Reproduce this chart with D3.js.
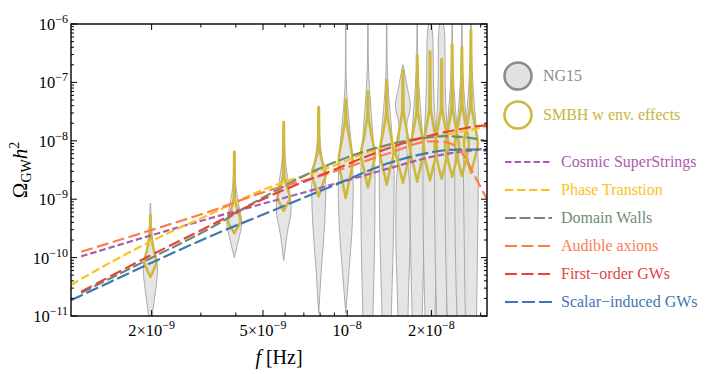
<!DOCTYPE html>
<html>
<head>
<meta charset="utf-8">
<script src="https://cdn.jsdelivr.net/npm/d3@7"></script>
<style>
  body { margin: 0; background: #fff; }
  svg { display: block; }
</style>
</head>
<body>
<div id="chart"></div>
<script>
// frequency grid (Hz) the model curves were read at
var fGrid = [1.03e-9, 1.12e-9, 1.99e-9, 3.23e-9, 4.88e-9, 8.69e-9, 1.42e-8, 1.98e-8, 2.24e-8, 2.53e-8, 2.82e-8, 3.16e-8];

// Omega_GW h^2 for each model, null where the curve is not drawn
var cosmicStrings   = [null, 1.05e-10, 2.4e-10, 4.7e-10, 8.1e-10, 1.74e-9, 3.4e-9, 5.25e-9, 5.9e-9, 6.5e-9, 6.9e-9, 7.4e-9];
var phaseTransition = [3.4e-11, 4.3e-11, 1.9e-10, 5.5e-10, 1.38e-9, 3.55e-9, 8.5e-9, 1.15e-8, 1.26e-8, 1.41e-8, 1.58e-8, 1.74e-8];
var domainWalls     = [null, 2.5e-11, 9.8e-11, 3.16e-10, 1.0e-9, 4.0e-9, 8.7e-9, 1.15e-8, 1.2e-8, 1.17e-8, 1.1e-8, 9.8e-9];
var audibleAxions   = [null, 1.26e-10, 2.95e-10, 6.17e-10, 1.26e-9, 2.82e-9, 6.17e-9, 9.8e-9, 9.5e-9, 6.9e-9, 2.8e-9, 1.0e-9];
var firstOrder      = [null, 2.6e-11, 1.1e-10, 3.5e-10, 9.5e-10, 3.0e-9, 7.6e-9, 1.23e-8, 1.41e-8, 1.58e-8, 1.74e-8, 1.86e-8];
var scalarInduced   = [1.86e-11, 2.24e-11, 8.1e-11, 2.3e-10, 5.2e-10, 1.62e-9, 4.2e-9, 6.3e-9, 6.9e-9, 7.1e-9, 7.1e-9, 6.8e-9];

// NG15 frequency bins (Hz)
var ng15Freqs = [1.98e-9, 3.95e-9, 5.93e-9, 7.91e-9, 9.88e-9, 1.186e-8, 1.384e-8, 1.582e-8, 1.779e-8, 1.977e-8, 2.175e-8, 2.372e-8, 2.57e-8, 2.768e-8];

// violin knots: [log10 Omega, relative density]
var ng15Knots = [
  [[-9.07,0.03],[-9.4,0.12],[-9.8,0.4],[-10.2,0.95],[-10.55,0.7],[-10.9,0.33],[-11.3,0]],
  [[-8.2,0.03],[-8.7,0.15],[-9.1,0.6],[-9.4,1.0],[-9.7,0.55],[-10.0,0]],
  [[-7.7,0.03],[-8.3,0.2],[-8.8,0.7],[-9.15,1.0],[-9.6,0.45],[-10.05,0]],
  [[-7.42,0.03],[-7.9,0.12],[-8.4,0.55],[-8.8,0.95],[-9.4,0.8],[-10.2,0.35],[-10.95,0]],
  [[-5.9,0.02],[-6.8,0.04],[-7.4,0.25],[-8.0,0.7],[-8.8,1.0],[-9.6,0.8],[-10.2,0.45],[-10.95,0]],
  [[-5.9,0.02],[-6.6,0.05],[-7.2,0.25],[-7.8,0.6],[-8.6,0.95],[-9.6,0.9],[-10.6,0.75],[-11.3,0.6]],
  [[-5.9,0.02],[-6.6,0.05],[-7.2,0.25],[-7.8,0.65],[-8.6,1.0],[-9.6,0.9],[-10.6,0.7],[-11.3,0.55]],
  [[-6.7,0.02],[-7.1,0.6],[-7.4,1.0],[-7.75,0.5],[-8.2,0.55],[-8.8,0.9],[-9.6,0.95],[-10.6,0.75],[-11.3,0.6]],
  [[-5.9,0.02],[-6.5,0.05],[-7.1,0.25],[-7.7,0.6],[-8.5,0.95],[-9.6,0.9],[-10.6,0.75],[-11.3,0.6]],
  [[-5.9,0.1],[-6.3,0.4],[-6.9,0.45],[-7.5,0.6],[-8.4,0.95],[-9.6,0.9],[-10.6,0.75],[-11.3,0.6]],
  [[-5.9,0.15],[-6.3,0.45],[-6.9,0.45],[-7.5,0.6],[-8.4,0.95],[-9.6,0.9],[-10.6,0.75],[-11.3,0.6]],
  [[-5.9,0.02],[-6.5,0.05],[-7.1,0.25],[-7.7,0.6],[-8.5,0.95],[-9.6,0.9],[-10.6,0.75],[-11.3,0.6]],
  [[-5.9,0.02],[-6.5,0.05],[-7.1,0.25],[-7.7,0.6],[-8.5,0.95],[-9.6,0.9],[-10.6,0.75],[-11.3,0.6]],
  [[-5.9,0.03],[-6.5,0.08],[-7.1,0.3],[-7.7,0.65],[-8.5,1.0],[-9.6,0.9],[-10.6,0.8],[-11.3,0.7]]
];

var smbhKnots = [
  [[-9.27,0.03],[-9.6,0.06],[-9.85,0.45],[-10.08,0.85],[-10.2,0.5],[-10.33,0]],
  [[-8.19,0.03],[-8.95,0.07],[-9.2,0.5],[-9.38,0.9],[-9.48,0.5],[-9.58,0]],
  [[-7.68,0.03],[-8.55,0.07],[-8.8,0.5],[-8.98,0.9],[-9.08,0.5],[-9.2,0]],
  [[-7.42,0.03],[-8.1,0.08],[-8.35,0.5],[-8.58,1.0],[-8.75,0.55],[-8.95,0]],
  [[-7.3,0.03],[-7.6,0.08],[-7.95,0.5],[-8.35,1.0],[-8.65,0.55],[-8.98,0]],
  [[-7.16,0.03],[-7.55,0.08],[-7.9,0.5],[-8.25,1.0],[-8.5,0.55],[-8.8,0]],
  [[-6.96,0.03],[-7.5,0.08],[-7.85,0.5],[-8.2,1.0],[-8.45,0.55],[-8.75,0]],
  [[-6.79,0.03],[-7.45,0.08],[-7.8,0.5],[-8.2,1.0],[-8.45,0.55],[-8.72,0]],
  [[-6.53,0.03],[-7.45,0.08],[-7.8,0.5],[-8.15,1.0],[-8.4,0.55],[-8.7,0]],
  [[-6.47,0.03],[-7.4,0.08],[-7.75,0.5],[-8.15,1.0],[-8.4,0.55],[-8.68,0]],
  [[-6.6,0.03],[-7.4,0.08],[-7.75,0.5],[-8.1,1.0],[-8.38,0.55],[-8.65,0]],
  [[-6.35,0.03],[-7.4,0.08],[-7.75,0.5],[-8.1,1.0],[-8.35,0.55],[-8.62,0]],
  [[-6.4,0.03],[-7.35,0.08],[-7.7,0.5],[-8.05,1.0],[-8.33,0.55],[-8.6,0]],
  [[-6.1,0.03],[-7.35,0.08],[-7.7,0.5],[-8.05,1.0],[-8.3,0.55],[-8.55,0]]
];

var xTickLabels = [[2e-9, "2\u00d710", "\u22129"], [5e-9, "5\u00d710", "\u22129"], [1e-8, "10", "\u22128"], [2e-8, "2\u00d710", "\u22128"]];
var yTickLabels = [1e-11, 1e-10, 1e-9, 1e-8, 1e-7, 1e-6];

var models = [
  {name: "Cosmic SuperStrings",   vals: cosmicStrings,   color: "#a95dac", dash: "6.5,3"},
  {name: "Phase Transtion",       vals: phaseTransition, color: "#fbc21a", dash: "8.5,3.5"},
  {name: "Domain Walls",          vals: domainWalls,     color: "#6f8c73", dash: "11,3.5"},
  {name: "Audible axions",        vals: audibleAxions,   color: "#fd7d4f", dash: "12,4.5"},
  {name: "First\u2212order GWs",  vals: firstOrder,      color: "#e4433f", dash: "12,4.5"},
  {name: "Scalar\u2212induced GWs", vals: scalarInduced, color: "#3f76b3", dash: "13,4"}
];

var width = 706, height = 374;
var L = 71, R = 487, T = 24, B = 316;

var svg = d3.select("#chart").append("svg")
  .attr("width", width)
  .attr("height", height);

// every text node gets the serif family directly
function label(parent) {
  return parent.append("text").style("font-family", "'Liberation Serif'");
}

var x = d3.scaleLog().domain([1.03e-9, 3.16e-8]).range([L, R]);
var y = d3.scaleLog().domain([1e-11, 1e-6]).range([B, T]);
var grayW = d3.scaleLinear().domain([0, 1]).range([0, 7.5]);
var goldW = d3.scaleLinear().domain([0, 1]).range([0, 7]);

svg.append("defs").append("clipPath").attr("id", "clip")
  .append("rect").attr("x", L).attr("y", T).attr("width", R - L).attr("height", B - T);

var plot = svg.append("g").attr("clip-path", "url(#clip)");

function violin(cx, w) {
  return d3.area()
    .y(function(d) { return y(Math.pow(10, d[0])); })
    .x0(function(d) { return cx - w(d[1]); })
    .x1(function(d) { return cx + w(d[1]); })
    .curve(d3.curveMonotoneY);
}

plot.selectAll("path.ng15")
  .data(ng15Knots)
  .enter().append("path")
  .attr("class", "ng15")
  .attr("d", function(k, i) { return violin(x(ng15Freqs[i]), grayW)(k); })
  .attr("fill", "#e2e2e2")
  .attr("fill-opacity", 0.9)
  .attr("stroke", "#a3a3a3")
  .attr("stroke-width", 0.9);

plot.selectAll("path.smbh")
  .data(smbhKnots)
  .enter().append("path")
  .attr("class", "smbh")
  .attr("d", function(k, i) { return violin(x(ng15Freqs[i]), goldW)(k); })
  .attr("fill", "none")
  .attr("stroke", "#cdb93f")
  .attr("stroke-width", 2.6)
  .attr("stroke-linejoin", "round");

var line = d3.line()
  .defined(function(d) { return d[1] != null; })
  .x(function(d) { return x(d[0]); })
  .y(function(d) { return y(d[1]); })
  .curve(d3.curveMonotoneX);

models.forEach(function(m) {
  plot.append("path")
    .datum(fGrid.map(function(f, i) { return [f, m.vals[i]]; }))
    .attr("d", line)
    .attr("fill", "none")
    .attr("stroke", m.color)
    .attr("stroke-width", 2.2)
    .attr("stroke-dasharray", m.dash);
});

// frame and ticks
svg.append("rect")
  .attr("x", L).attr("y", T).attr("width", R - L).attr("height", B - T)
  .attr("fill", "none").attr("stroke", "#000").attr("stroke-width", 1.4);

var ax = svg.append("g").attr("stroke", "#000").attr("stroke-width", 1);

y.ticks().forEach(function(v) {
  var major = Math.abs(Math.log10(v) - Math.round(Math.log10(v))) < 1e-6;
  var len = major ? 6 : 3;
  ax.append("line").attr("x1", L).attr("x2", L + len).attr("y1", y(v)).attr("y2", y(v));
  ax.append("line").attr("x1", R).attr("x2", R - len).attr("y1", y(v)).attr("y2", y(v));
});

var xMajor = xTickLabels.map(function(t) { return t[0]; });
x.ticks().forEach(function(v) {
  var major = xMajor.some(function(m) { return Math.abs(m - v) / m < 1e-6; });
  var len = major ? 6 : 3.5;
  ax.append("line").attr("y1", B).attr("y2", B - len).attr("x1", x(v)).attr("x2", x(v));
  ax.append("line").attr("y1", T).attr("y2", T + len).attr("x1", x(v)).attr("x2", x(v));
});

yTickLabels.forEach(function(v) {
  var t = label(svg)
    .attr("x", L - 3).attr("y", y(v) + 6)
    .attr("text-anchor", "end")
    .attr("font-size", 16.5)
    .text("10");
  t.append("tspan").attr("dy", -7).attr("font-size", 12).text("\u2212" + Math.round(-Math.log10(v)));
});

xTickLabels.forEach(function(d) {
  var t = label(svg)
    .attr("x", x(d[0])).attr("y", B + 20)
    .attr("text-anchor", "middle")
    .attr("font-size", 16.5)
    .text(d[1]);
  t.append("tspan").attr("dy", -7).attr("font-size", 12).text(d[2]);
});

// axis titles
var xt = label(svg)
  .attr("x", (L + R) / 2).attr("y", 364)
  .attr("text-anchor", "middle")
  .attr("font-size", 20);
xt.append("tspan").attr("font-style", "italic").text("f");
xt.append("tspan").text(" [Hz]");

var yt = label(svg)
  .attr("transform", "translate(27," + ((T + B) / 2) + ") rotate(-90)")
  .attr("text-anchor", "middle")
  .attr("font-size", 21);
yt.append("tspan").text("\u03a9");
yt.append("tspan").attr("font-size", 14).attr("dy", 4).text("GW");
yt.append("tspan").attr("font-style", "italic").attr("dy", -4).text("h");
yt.append("tspan").attr("font-size", 14).attr("dy", -8).text("2");

// legend
var leg = svg.append("g");
leg.append("circle").attr("cx", 518).attr("cy", 76).attr("r", 13.5)
  .attr("fill", "#e2e2e2").attr("stroke", "#8c8c8c").attr("stroke-width", 2.6);
label(leg).attr("x", 543).attr("y", 81).attr("font-size", 16).attr("fill", "#8a8a8a").text("NG15");
leg.append("circle").attr("cx", 518).attr("cy", 115).attr("r", 13.5)
  .attr("fill", "#fff").attr("stroke", "#cdb93f").attr("stroke-width", 2.6);
label(leg).attr("x", 543).attr("y", 120).attr("font-size", 16).attr("fill", "#c8b43c").text("SMBH w env. effects");

models.forEach(function(m, i) {
  var ly = 162 + i * 28;
  leg.append("line").attr("x1", 505).attr("x2", 552).attr("y1", ly).attr("y2", ly)
    .attr("stroke", m.color).attr("stroke-width", 2.2).attr("stroke-dasharray", m.dash);
  label(leg).attr("x", 561).attr("y", ly + 5).attr("font-size", 16)
    .attr("fill", m.color).text(m.name);
});
</script>
</body>
</html>
